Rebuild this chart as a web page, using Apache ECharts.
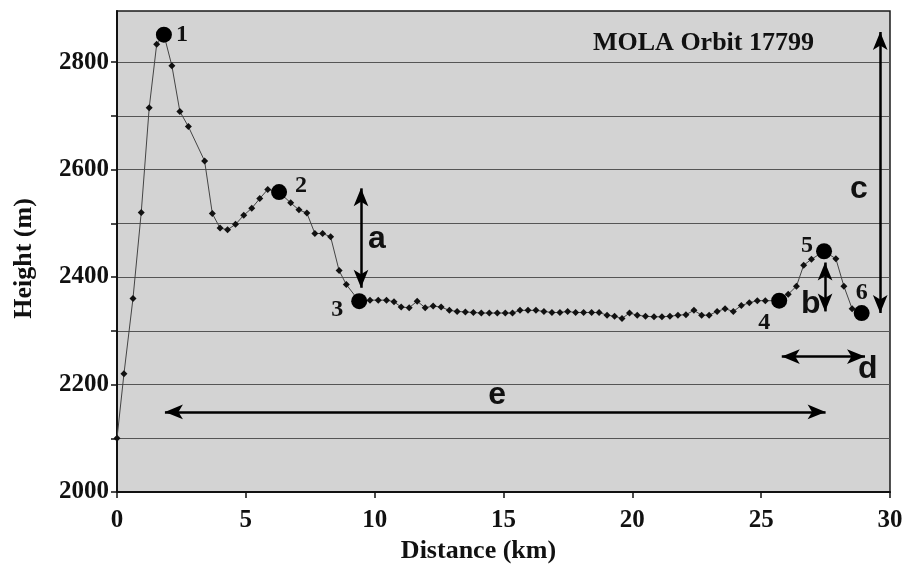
<!DOCTYPE html>
<html>
<head>
<meta charset="utf-8">
<script src="https://cdn.jsdelivr.net/npm/echarts@6/dist/echarts.min.js"></script>
<style>
html,body{margin:0;padding:0;background:#fff;}
#chart{width:903px;height:564px;}
</style>
</head>
<body>
<div id="chart"></div>
<script>
// ---- data ----
const distKm = [0, 0.27, 0.62, 0.94, 1.25, 1.54, 1.82, 2.13, 2.44, 2.77, 3.40, 3.70, 4.00, 4.29, 4.60, 4.92, 5.23, 5.54, 5.85, 6.29,
  6.74, 7.06, 7.37, 7.68, 7.98, 8.29, 8.62, 8.90, 9.40, 9.82, 10.14, 10.46, 10.75, 11.03, 11.34, 11.65, 11.96, 12.27, 12.58, 12.90,
  13.20, 13.52, 13.83, 14.14, 14.45, 14.76, 15.07, 15.35, 15.64, 15.95, 16.26, 16.57, 16.88, 17.19, 17.49, 17.80, 18.11, 18.42, 18.71, 19.02,
  19.31, 19.60, 19.89, 20.19, 20.51, 20.84, 21.15, 21.46, 21.77, 22.08, 22.39, 22.69, 22.98, 23.29, 23.60, 23.92, 24.23, 24.54, 24.85, 25.16,
  25.70, 26.05, 26.37, 26.65, 26.95, 27.44, 27.90, 28.21, 28.53, 28.90];
const heightM = [2100, 2220, 2360, 2520, 2715, 2833, 2851, 2793, 2708, 2680, 2616, 2518, 2491, 2488, 2498, 2515, 2528, 2546, 2563, 2558,
  2538, 2525, 2519, 2481, 2481, 2475, 2412, 2386, 2355, 2357, 2357, 2357, 2354, 2344, 2343, 2355, 2343, 2346, 2344, 2338,
  2336, 2335, 2334, 2333, 2333, 2333, 2333, 2333, 2338, 2338, 2338, 2336, 2334, 2334, 2336, 2334, 2334, 2334, 2334, 2329,
  2327, 2323, 2333, 2329, 2327, 2326, 2326, 2327, 2329, 2330, 2338, 2329, 2329, 2336, 2341, 2336, 2347, 2352, 2356, 2356,
  2356, 2368, 2383, 2422, 2433, 2448, 2434, 2383, 2341, 2333];

const keyNames = ['1', '2', '3', '4', '5', '6'];
const keyDist = [1.82, 6.29, 9.40, 25.70, 27.44, 28.90];
const keyHeight = [2851, 2558, 2355, 2356, 2448, 2333];

const yTicks = [2000, 2100, 2200, 2300, 2400, 2500, 2600, 2700, 2800];
const yLabels = [2000, 2200, 2400, 2600, 2800];
const xLabels = [0, 5, 10, 15, 20, 25, 30];

// annotation arrows (data units): name, start, end
const arrowNames = ['a', 'b', 'c', 'd', 'e'];
const arrowFrom = [[9.47, 2565], [27.48, 2427], [29.62, 2856], [25.80, 2252], [1.86, 2149]];
const arrowTo = [[9.47, 2380], [27.48, 2336], [29.62, 2333], [29.03, 2252], [27.50, 2149]];
const letterPos = [[10.09, 2470], [26.93, 2349], [28.79, 2563], [29.14, 2228], [14.75, 2181]];

// ---- chart ----
const serif = '"Liberation Serif", "Times New Roman", serif';
const sans = '"Liberation Sans", Arial, sans-serif';
const keyLabelPos = [
  {position: 'right', offset: [0, 0]},
  {position: 'right', offset: [4, -6]},
  {position: 'left', offset: [-4, 9]},
  {position: 'left', offset: [3, 22]},
  {position: 'left', offset: [1, -5]},
  {position: 'top', offset: [0, 4]}
];

const chart = echarts.init(document.getElementById('chart'), null, {renderer: 'canvas'});
const lineData = distKm.map((d, i) => [d, heightM[i]]);
const keyData = keyDist.map((d, i) => ({
  value: [d, keyHeight[i]],
  name: keyNames[i],
  label: Object.assign({show: true, formatter: keyNames[i]}, keyLabelPos[i])
}));
const arrowData = arrowNames.map((n, i) => [
  {coord: arrowFrom[i], name: n},
  {coord: arrowTo[i]}
]);
const letterData = arrowNames.map((n, i) => ({value: letterPos[i], name: n}));

chart.setOption({
  animation: false,
  backgroundColor: '#ffffff',
  title: {
    text: 'MOLA Orbit 17799',
    left: 588, top: 25,
    textStyle: {fontFamily: serif, fontWeight: 'bold', fontSize: 26, color: '#111'}
  },
  grid: {
    left: 117, right: 13, top: 11, bottom: 72,
    containLabel: false, outerBoundsMode: 'none',
    show: true, backgroundColor: '#d3d3d3', borderColor: '#1a1a1a', borderWidth: 1.5
  },
  xAxis: {
    type: 'value', min: 0, max: 30, interval: 5,
    name: 'Distance (km)', nameLocation: 'middle', nameGap: 44,
    nameTextStyle: {fontFamily: serif, fontWeight: 'bold', fontSize: 26, color: '#111', padding: [0, 50, 0, 0]},
    axisLine: {lineStyle: {color: '#111', width: 2}},
    axisTick: {show: true, inside: false, length: 6, lineStyle: {color: '#111', width: 1.5}},
    axisLabel: {margin: 16, fontFamily: serif, fontWeight: 'bold', fontSize: 25, color: '#111'},
    splitLine: {show: false}
  },
  yAxis: {
    type: 'value', min: 2000, max: 2895, interval: 100,
    name: 'Height (m)', nameLocation: 'middle', nameGap: 80, nameRotate: 90,
    nameTextStyle: {fontFamily: serif, fontWeight: 'bold', fontSize: 26, color: '#111', padding: [0, 14, 0, 0]},
    axisLine: {lineStyle: {color: '#111', width: 2}},
    axisTick: {show: true, inside: false, length: 6, lineStyle: {color: '#111', width: 1.5}, customValues: yTicks},
    axisLabel: {
      margin: 8, fontFamily: serif, fontWeight: 'bold', fontSize: 25, color: '#111',
      customValues: yLabels,
      formatter: v => (yLabels.indexOf(v) >= 0 ? String(v) : '')
    },
    splitLine: {show: true, lineStyle: {color: '#555', width: 1.2}}
  },
  series: [
    {
      type: 'line', data: lineData,
      symbol: 'diamond', symbolSize: 7,
      itemStyle: {color: '#111', opacity: 1},
      lineStyle: {color: '#444', width: 1},
      z: 3,
      markLine: {
        silent: true,
        symbol: ['arrow', 'arrow'],
        symbolSize: [11, 18],
        lineStyle: {color: '#000', width: 2.5, type: 'solid'},
        label: {show: false},
        data: arrowData
      }
    },
    {
      type: 'scatter', data: keyData,
      symbol: 'circle', symbolSize: 16,
      itemStyle: {color: '#000', opacity: 1},
      label: {fontFamily: serif, fontWeight: 'bold', fontSize: 24, color: '#111', distance: 4},
      z: 4
    },
    {
      type: 'scatter', data: letterData,
      symbolSize: 0,
      itemStyle: {opacity: 1},
      label: {show: true, position: 'inside', formatter: p => p.name,
        fontFamily: sans, fontWeight: 'bold', fontSize: 32, color: '#111'},
      z: 5
    }
  ]
});
</script>
</body>
</html>
